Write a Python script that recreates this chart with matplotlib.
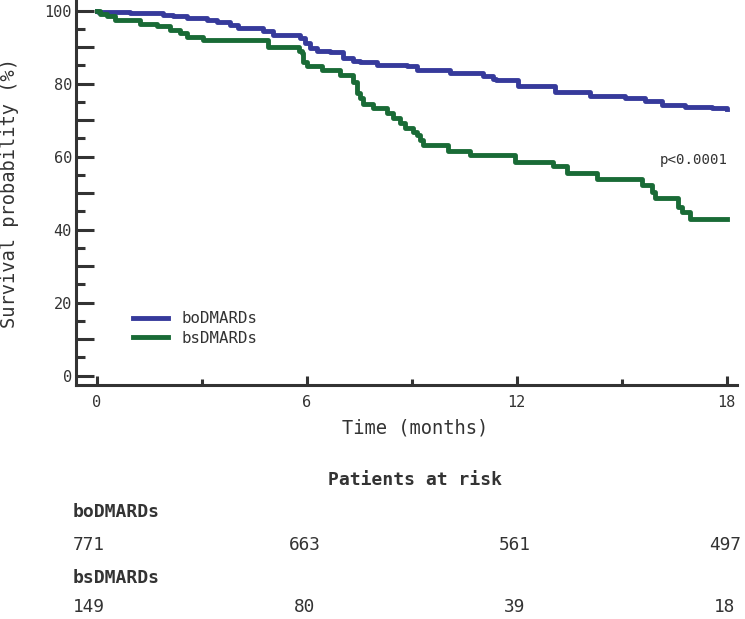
#!/usr/bin/env python3
import numpy as np
import matplotlib
matplotlib.use("Agg")
import matplotlib.pyplot as plt
from matplotlib.ticker import MultipleLocator, FuncFormatter
from matplotlib.transforms import blended_transform_factory

# Kaplan-Meier steps (months, % surviving)
bo_time = [0, 0.05, 0.95, 1.9, 2.18, 2.58, 3.15, 3.44, 3.81, 4.04, 4.75, 5.04,
           5.81, 5.95, 6.09, 6.29, 6.67, 7.04, 7.33, 7.52, 8.01, 8.87, 9.15,
           10.1, 11.04, 11.32, 11.4, 12.04, 13.1, 14.1, 15.1, 15.67, 16.15,
           16.81, 17.58, 18.0]
bo_surv = [100, 99.7, 99.3, 98.8, 98.4, 97.9, 97.5, 96.8, 96.1, 95.2, 94.5, 93.3,
           92.4, 91.0, 89.7, 89.0, 88.6, 87.0, 86.3, 85.8, 85.1, 84.7, 83.6,
           82.9, 82.0, 81.2, 81.0, 79.4, 77.8, 76.6, 76.0, 75.1, 74.2,
           73.7, 73.2, 73.0]

bs_time = [0, 0.1, 0.3, 0.52, 1.24, 1.72, 2.09, 2.38, 2.58, 3.04, 4.9, 5.77,
           5.86, 5.89, 6.0, 6.44, 6.95, 7.32, 7.43, 7.52, 7.61, 7.89, 8.29,
           8.47, 8.67, 8.81, 9.04, 9.15, 9.24, 9.33, 10.04, 10.67, 11.95,
           13.04, 13.44, 14.29, 15.58, 15.86, 15.95, 16.61, 16.72, 16.95, 18.0]
bs_surv = [100, 99.1, 98.5, 97.3, 96.4, 95.7, 94.7, 93.8, 92.9, 92.0, 90.1, 89.0,
           88.3, 86.0, 84.7, 83.6, 82.4, 80.5, 77.4, 76.0, 74.4, 73.3, 72.0,
           70.5, 69.2, 67.8, 66.8, 65.9, 64.6, 63.2, 61.6, 60.4, 58.6,
           57.3, 55.6, 53.8, 52.2, 50.4, 48.6, 46.3, 44.9, 42.8, 42.8]

groups = ["boDMARDs", "bsDMARDs"]
colors = ["#363a9b", "#196b36"]
risk_times = [0, 6, 12, 18]
risk_bo = [771, 663, 561, 497]
risk_bs = [149, 80, 39, 18]
p_text = "p<0.0001"

plt.rcParams["font.family"] = ["DejaVu Sans Mono"]
ink = "#333333"

fig = plt.figure(figsize=(7.45, 6.19), dpi=100)
ax = fig.add_axes([76 / 745, 1 - 385 / 619, 661 / 745, 385 / 619])

ax.step(bo_time, bo_surv, where="post", color=colors[0], lw=3.5, label=groups[0])
ax.step(bs_time, bs_surv, where="post", color=colors[1], lw=3.5, label=groups[1])

ax.set_xlim(-0.59, 18.3)
ax.set_ylim(-2.55, 102.9)

for side in ["top", "right"]:
    ax.spines[side].set_visible(False)
for side in ["left", "bottom"]:
    ax.spines[side].set_linewidth(2.2)
    ax.spines[side].set_color(ink)

ax.xaxis.set_major_locator(MultipleLocator(6))
ax.xaxis.set_minor_locator(MultipleLocator(3))
ax.yaxis.set_major_locator(MultipleLocator(10))
ax.yaxis.set_minor_locator(MultipleLocator(5))
ax.yaxis.set_major_formatter(FuncFormatter(lambda v, p: f"{v:.0f}" if round(v) % 20 == 0 else ""))

ax.tick_params(axis="y", which="major", direction="in", length=13, width=2.2,
               color=ink, labelcolor=ink, labelsize=11, pad=3)
ax.tick_params(axis="y", which="minor", direction="in", length=6.5, width=2.2, color=ink)
ax.tick_params(axis="x", which="major", direction="in", length=6.5, width=2.2,
               color=ink, labelcolor=ink, labelsize=11, pad=7)
ax.tick_params(axis="x", which="minor", direction="in", length=4.3, width=2.2, color=ink)

ax.set_xlabel("Time (months)", fontsize=13.5, color=ink)
ax.xaxis.set_label_coords(0.513, -0.088)
ax.set_ylabel("Survival probability (%)", fontsize=13.5, color=ink)
ax.yaxis.set_label_coords(-0.086, 0.5)

ax.text(18.04, 59.1, p_text, ha="right", va="center", fontsize=10.2, color=ink)

ax.legend(loc="center left", bbox_to_anchor=(0.0862, 0.147), frameon=False,
          fontsize=11.3, handlelength=2.2, handletextpad=0.9, labelspacing=0.3,
          borderpad=0, borderaxespad=0, labelcolor=ink)

# risk table below the plot
tr = blended_transform_factory(ax.transData, fig.transFigure)
left = -0.68
ax.text(9.1, 1 - 480 / 619, "Patients at risk", transform=tr, ha="center", va="center",
        fontsize=13, fontweight="bold", color=ink)
rows = [(groups[0], risk_bo, 512, 545), (groups[1], risk_bs, 578, 607)]
for name, counts, y_name, y_num in rows:
    ax.text(left, 1 - y_name / 619, name, transform=tr, ha="left", va="center",
            fontsize=13, fontweight="bold", color=ink)
    for t, n in zip(risk_times, counts):
        if t == 0:
            ax.text(left, 1 - y_num / 619, str(n), transform=tr, ha="left",
                    va="center", fontsize=12.8, color=ink)
        else:
            ax.text(t - 0.05, 1 - y_num / 619, str(n), transform=tr, ha="center",
                    va="center", fontsize=12.8, color=ink)

fig.savefig("out.png", dpi=100)
